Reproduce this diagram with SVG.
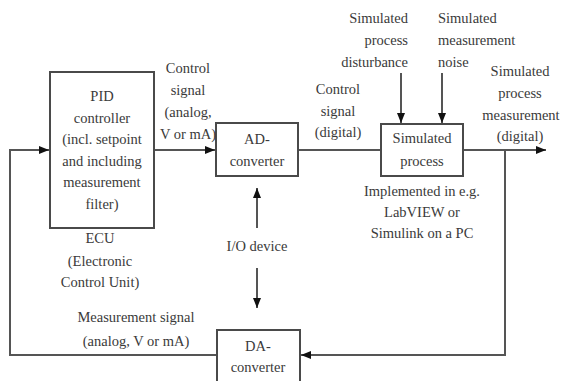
<svg xmlns="http://www.w3.org/2000/svg" width="562" height="381" viewBox="0 0 562 381">
  <defs>
    <style>
      .box { fill: #ffffff; stroke: #4a4a4a; stroke-width: 2; }
      .wire { fill: none; stroke: #555555; stroke-width: 2; }
      text { font-family: "Liberation Serif", "Times New Roman", serif; font-size: 14.5px; fill: #3a3a3a; }
      .c { text-anchor: middle; }
      .e { text-anchor: end; }
    </style>
    <marker id="arrow" viewBox="0 0 10 10" refX="10" refY="5" markerWidth="10" markerHeight="10" markerUnits="userSpaceOnUse" orient="auto">
      <path d="M0,1 L10,5 L0,9 Z" fill="#111111"/>
    </marker>
  </defs>

  <rect width="562" height="381" fill="#ffffff"/>

  <!-- connectors -->
  <g id="connectors">
    <!-- PID output to AD converter -->
    <line class="wire" x1="154" y1="150" x2="215" y2="150" marker-end="url(#arrow)"/>
    <!-- AD converter to simulated process -->
    <line class="wire" x1="298" y1="150" x2="381" y2="150"/>
    <!-- process output -->
    <line class="wire" x1="463" y1="150" x2="546" y2="150" marker-end="url(#arrow)"/>
    <!-- measurement branch back to DA converter -->
    <polyline class="wire" points="505,150 505,355 301,355" marker-end="url(#arrow)"/>
    <!-- DA converter back to PID -->
    <polyline class="wire" points="217,355 10,355 10,150 49,150" marker-end="url(#arrow)"/>
    <!-- disturbance and noise inputs -->
    <line class="wire" x1="401" y1="73" x2="401" y2="123" marker-end="url(#arrow)"/>
    <line class="wire" x1="442" y1="73" x2="442" y2="123" marker-end="url(#arrow)"/>
    <!-- I/O device arrows -->
    <line class="wire" x1="257" y1="228" x2="257" y2="188" marker-end="url(#arrow)"/>
    <line class="wire" x1="257" y1="268" x2="257" y2="308" marker-end="url(#arrow)"/>
  </g>

  <g id="pid">
    <rect class="box" x="50" y="72" width="104" height="156"/>
    <text class="c" x="102" y="101">PID</text>
    <text class="c" x="102" y="122.5">controller</text>
    <text class="c" x="102" y="144">(incl. setpoint</text>
    <text class="c" x="102" y="166">and including</text>
    <text class="c" x="102" y="187">measurement</text>
    <text class="c" x="102" y="209">filter)</text>
  </g>

  <g id="ecu-label">
    <text class="c" x="100" y="243">ECU</text>
    <text class="c" x="100" y="266">(Electronic</text>
    <text class="c" x="100" y="287">Control Unit)</text>
  </g>

  <g id="ad">
    <rect class="box" x="216" y="123" width="82" height="53"/>
    <text class="c" x="257" y="144">AD-</text>
    <text class="c" x="257" y="166">converter</text>
  </g>

  <g id="da">
    <rect class="box" x="217" y="330" width="83" height="60"/>
    <text class="c" x="258" y="351">DA-</text>
    <text class="c" x="258" y="372">converter</text>
  </g>

  <g id="process">
    <rect class="box" x="381" y="124" width="82" height="52"/>
    <text class="c" x="422" y="143">Simulated</text>
    <text class="c" x="422" y="166">process</text>
  </g>

  <g id="labels">
    <text class="c" x="188" y="73">Control</text>
    <text class="c" x="188" y="95">signal</text>
    <text class="c" x="188" y="117">(analog,</text>
    <text class="c" x="188" y="139">V or mA)</text>

    <text class="c" x="338" y="94">Control</text>
    <text class="c" x="338" y="116">signal</text>
    <text class="c" x="338" y="137">(digital)</text>

    <text class="e" x="408" y="23">Simulated</text>
    <text class="e" x="408" y="45">process</text>
    <text class="e" x="408" y="67">disturbance</text>

    <text x="438" y="23">Simulated</text>
    <text x="438" y="45">measurement</text>
    <text x="438" y="67">noise</text>

    <text class="c" x="520" y="76">Simulated</text>
    <text class="c" x="520" y="98">process</text>
    <text class="c" x="521" y="120">measurement</text>
    <text class="c" x="520" y="141">(digital)</text>

    <text class="c" x="422" y="196">Implemented in e.g.</text>
    <text class="c" x="422" y="217">LabVIEW or</text>
    <text class="c" x="422" y="238">Simulink on a PC</text>

    <text class="c" x="257" y="251">I/O device</text>

    <text class="c" x="136" y="322">Measurement signal</text>
    <text class="c" x="136" y="346">(analog, V or mA)</text>
  </g>
</svg>
